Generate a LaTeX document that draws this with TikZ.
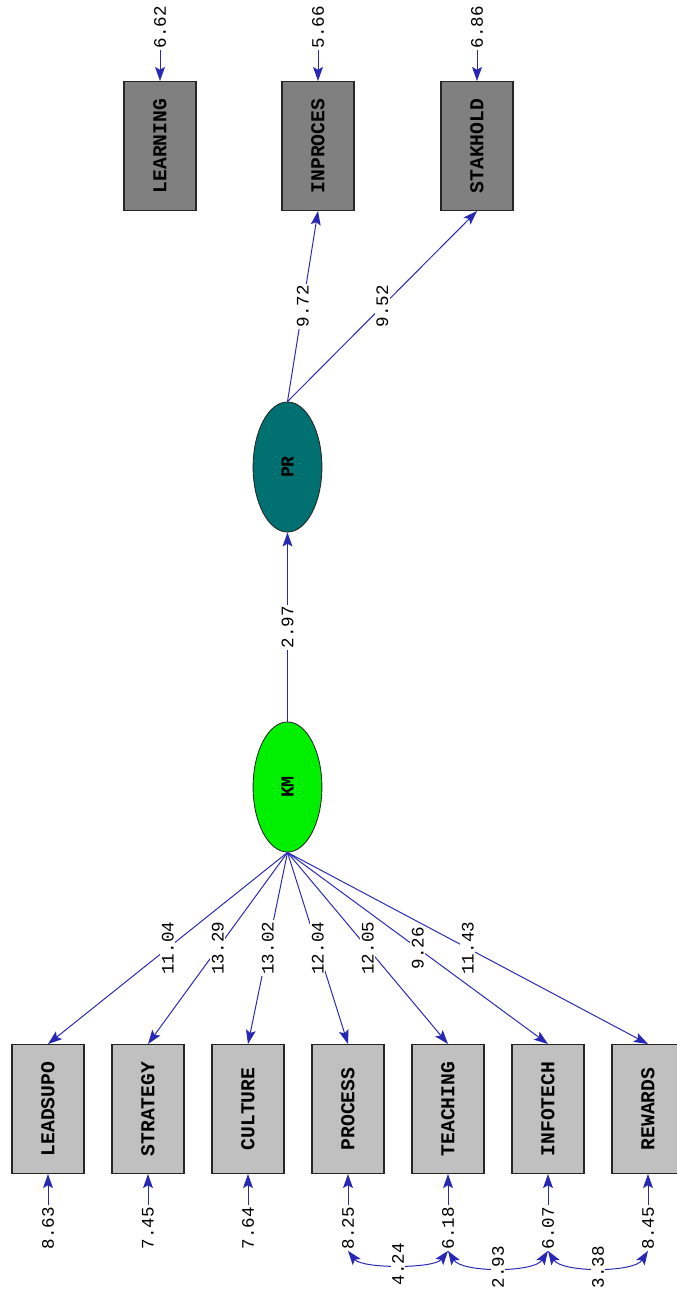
\documentclass[tikz,border=0pt]{standalone}
\usepackage{fontspec}
\setmonofont{Liberation Mono}
\usetikzlibrary{arrows.meta,shapes.geometric}
\definecolor{pathblue}{RGB}{40,40,180}
\definecolor{boxlight}{RGB}{192,192,192}
\definecolor{boxdark}{RGB}{128,128,128}
\definecolor{prteal}{RGB}{0,112,112}
\definecolor{kmgreen}{RGB}{0,240,0}
\newcommand{\vtext}[1]{\rotatebox{90}{#1}}

\begin{document}
\begin{tikzpicture}[x=0.025cm, y=-0.025cm,
    obsbox/.style={draw=black!85, line width=0.8pt, rectangle, minimum width=1.8cm, minimum height=3.22cm, inner sep=0pt, font=\ttfamily\bfseries\fontsize{14}{16}\selectfont},
    latent/.style={draw=black!85, line width=0.6pt, ellipse, minimum width=1.72cm, minimum height=3.25cm, inner sep=0pt, font=\ttfamily\bfseries\fontsize{13}{15}\selectfont},
    est/.style={fill=white, inner sep=1pt, font=\ttfamily\fontsize{12.5}{14}\selectfont},
    loading/.style={draw=pathblue, line width=0.7pt, -{Stealth[length=10pt, width=7pt, inset=2pt]}},
    covar/.style={draw=pathblue, line width=0.7pt, {Stealth[length=10pt, width=7pt, inset=2pt]}-{Stealth[length=10pt, width=7pt, inset=2pt]}}]
    \useasboundingbox (0,0) rectangle (677,1289);

    % 潜变量
    \node[latent, fill=prteal] (PR) at (287.5,467) {\vtext{PR}};
    \node[latent, fill=kmgreen] (KM) at (287.5,787) {\vtext{KM}};
    \draw[loading] (KM) -- node[est] {\vtext{2.97}} (PR);

    % PR 的指标
    \node[obsbox, fill=boxdark] (LEARNING) at (160,146) {\vtext{LEARNING}};
    \node[obsbox, fill=boxdark] (INPROCES) at (318,146) {\vtext{INPROCES}};
    \node[obsbox, fill=boxdark] (STAKHOLD) at (477,146) {\vtext{STAKHOLD}};
    \draw[loading] (PR.north) -- node[est] {\vtext{9.72}} (INPROCES.south);
    \draw[loading] (PR.north) -- node[est] {\vtext{9.52}} (STAKHOLD.south);

    \node[est] (eLEARNING) at (160,27) {\vtext{6.62}};
    \node[est] (eINPROCES) at (318,27) {\vtext{5.66}};
    \node[est] (eSTAKHOLD) at (477,27) {\vtext{6.86}};
    \foreach \v in {LEARNING, INPROCES, STAKHOLD}
        \draw[loading] (e\v.south) -- (\v.north);

    % KM 的指标
    \node[obsbox, fill=boxlight] (LEADSUPO) at (48,1109) {\vtext{LEADSUPO}};
    \node[obsbox, fill=boxlight] (STRATEGY) at (148,1109) {\vtext{STRATEGY}};
    \node[obsbox, fill=boxlight] (CULTURE) at (248,1109) {\vtext{CULTURE}};
    \node[obsbox, fill=boxlight] (PROCESS) at (348,1109) {\vtext{PROCESS}};
    \node[obsbox, fill=boxlight] (TEACHING) at (448,1109) {\vtext{TEACHING}};
    \node[obsbox, fill=boxlight] (INFOTECH) at (548,1109) {\vtext{INFOTECH}};
    \node[obsbox, fill=boxlight] (REWARDS) at (648,1109) {\vtext{REWARDS}};

    \foreach \v/\t in {LEADSUPO/11.04, STRATEGY/13.29, CULTURE/13.02, PROCESS/12.04,
                       TEACHING/12.05, INFOTECH/9.26, REWARDS/11.43}
        \draw[loading] (KM.south) -- node[est] {\vtext{\t}} (\v.north);

    % 误差项
    \foreach \v/\t/\x in {LEADSUPO/8.63/48, STRATEGY/7.45/148, CULTURE/7.64/248, PROCESS/8.25/348,
                          TEACHING/6.18/448, INFOTECH/6.07/548, REWARDS/8.45/648} {
        \node[est] (e\v) at (\x,1228) {\vtext{\t}};
        \draw[loading] (e\v.north) -- (\v.south);
    }

    % 误差相关
    \draw[covar] (ePROCESS.south) .. controls +(14,18) and +(-14,18) .. node[est] {\vtext{4.24}} (eTEACHING.south);
    \draw[covar] (eTEACHING.south) .. controls +(14,22) and +(-14,22) .. node[est] {\vtext{2.93}} (eINFOTECH.south);
    \draw[covar] (eINFOTECH.south) .. controls +(14,22) and +(-14,22) .. node[est] {\vtext{3.38}} (eREWARDS.south);
\end{tikzpicture}
\end{document}
